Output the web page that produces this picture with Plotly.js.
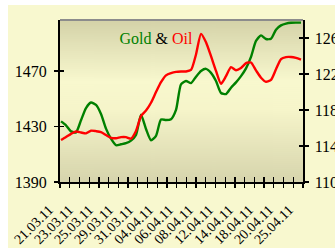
<!DOCTYPE html>
<html>
<head>
<meta charset="utf-8">
<script src="https://cdn.plot.ly/plotly-3.0.1.min.js"></script>
<style>
  html, body { margin: 0; padding: 0; background: #ffffff; }
  #chart { width: 335px; height: 248px; }
</style>
</head>
<body>
<div id="chart"></div>
<script>
// ---- data (half-day samples over the trading days 21.03.11 – 25.04.11) ----
const dateLabels = ['21.03.11', '23.03.11', '25.03.11', '29.03.11', '31.03.11', '04.04.11',
  '06.04.11', '08.04.11', '12.04.11', '14.04.11', '18.04.11', '20.04.11', '25.04.11'];

const goldPrice = [1433.7, 1430.9, 1426.5, 1425.8, 1434.5, 1443.3, 1447.3, 1445.6, 1439.1, 1428.5,
  1421.2, 1416.5, 1417.2, 1418.0, 1419.8, 1423.9, 1438.5, 1428.2, 1420.1, 1423.3,
  1435.0, 1434.7, 1435.3, 1442.0, 1460.4, 1462.8, 1461.3, 1465.9, 1470.0, 1471.6,
  1468.7, 1462.8, 1454.2, 1453.4, 1458.0, 1461.8, 1466.3, 1471.9, 1480.2, 1491.7,
  1495.7, 1493.1, 1493.3, 1499.8, 1502.9, 1504.2, 1504.8, 1504.9, 1504.9];

const oilPrice = [114.66, 114.99, 115.35, 115.61, 115.50, 115.41, 115.70, 115.65, 115.55, 115.22,
  114.91, 114.86, 114.98, 114.98, 114.82, 115.67, 117.33, 117.94, 118.81, 119.99,
  121.09, 121.85, 122.10, 122.23, 122.27, 122.28, 122.45, 124.17, 126.46, 125.52,
  123.98, 122.34, 120.91, 121.76, 122.76, 122.42, 122.67, 123.20, 123.28, 122.40,
  121.59, 121.14, 121.35, 122.53, 123.66, 123.88, 123.89, 123.79, 123.61];

const goldTicks = [1390, 1430, 1470];
const oilTicks = [110, 114, 118, 122, 126];

// ---- layout helpers ----
const W = 335, H = 248;
const M = { l: 60, r: 32, t: 20, b: 66 };
const PW = W - M.l - M.r, PH = H - M.t - M.b;
const px = x => (x - M.l) / PW;
const py = y => (H - M.b - y) / PH;

const sampleIdx = goldPrice.map((_, i) => i);
const labelPos = dateLabels.map((_, i) => i * 4);

// gradient background for plot area
const cv = document.createElement('canvas');
cv.width = 4; cv.height = 162;
const cx = cv.getContext('2d');
const g = cx.createLinearGradient(0, 0, 0, 162);
g.addColorStop(0, 'rgb(212,210,168)');
g.addColorStop(0.38, 'rgb(248,248,206)');
g.addColorStop(0.55, 'rgb(246,245,202)');
g.addColorStop(1, 'rgb(214,212,172)');
cx.fillStyle = g;
cx.fillRect(0, 0, 4, 162);
const gradURL = cv.toDataURL('image/png');

const serif = 'Liberation Serif, Times New Roman, serif';
const GREEN = '#008000', RED = '#ff0000';

const traces = [
  { x: sampleIdx, y: oilPrice, type: 'scatter', mode: 'lines', name: 'Oil',
    line: { color: RED, width: 2.4, shape: 'spline', smoothing: 0.6 },
    xaxis: 'x', yaxis: 'y2', hoverinfo: 'skip' },
  { x: sampleIdx, y: goldPrice, type: 'scatter', mode: 'lines', name: 'Gold',
    line: { color: GREEN, width: 2.4, shape: 'spline', smoothing: 0.6 },
    xaxis: 'x', yaxis: 'y', hoverinfo: 'skip' },
  // carriers for the tick-only overlay axes
  { x: [0], y: [null], xaxis: 'x2', yaxis: 'y', mode: 'lines', hoverinfo: 'skip' },
  { x: [0], y: [null], xaxis: 'x3', yaxis: 'y', mode: 'lines', hoverinfo: 'skip' },
  { x: [0], y: [null], xaxis: 'x', yaxis: 'y3', mode: 'lines', hoverinfo: 'skip' },
  { x: [0], y: [null], xaxis: 'x', yaxis: 'y4', mode: 'lines', hoverinfo: 'skip' }
];

const xr = [-0.2, 48.4];
const gr = [1390, 1506.8];
const orr = [110, 128];
const tickAx = (extra) => Object.assign({
  showgrid: false, zeroline: false, showline: false, showticklabels: false,
  tickcolor: '#000', tickwidth: 1.3, fixedrange: true
}, extra);

const layout = {
  width: W, height: H,
  margin: M,
  paper_bgcolor: '#f8f8cf',
  plot_bgcolor: 'rgba(0,0,0,0)',
  showlegend: false,
  font: { family: serif, size: 16, color: '#000' },
  title: {
    text: '<span style="color:' + GREEN + '">Gold</span> &amp; <span style="color:' + RED + '">Oil</span>',
    font: { family: serif, size: 16, color: '#000' },
    xref: 'paper', yref: 'paper', x: px(156), y: py(38.5),
    xanchor: 'center', yanchor: 'middle'
  },
  xaxis: {
    range: xr, showgrid: false, zeroline: false,
    showline: true, linecolor: '#000', linewidth: 2,
    tickmode: 'array', tickvals: labelPos, ticktext: dateLabels,
    ticks: '', tickangle: -45,
    ticklabelstandoff: 12, ticklabelshift: -12,
    tickfont: { family: serif, size: 14, color: '#000' }
  },
  xaxis2: tickAx({ overlaying: 'x', anchor: 'y', side: 'bottom', range: [0, 25],
    tickmode: 'linear', tick0: 0, dtick: 1, ticks: 'outside', ticklen: 5 }),
  xaxis3: tickAx({ overlaying: 'x', anchor: 'y', side: 'bottom', range: [0, 25],
    tickmode: 'linear', tick0: 0, dtick: 1, ticks: 'inside', ticklen: 5 }),
  yaxis: {
    range: gr, showgrid: false, zeroline: false,
    showline: true, linecolor: '#000', linewidth: 2,
    tickmode: 'array', tickvals: goldTicks,
    ticks: 'outside', ticklen: 4, tickwidth: 1.3, tickcolor: '#000',
    ticklabelstandoff: 4,
    tickfont: { family: serif, size: 16, color: '#000' }
  },
  yaxis2: {
    overlaying: 'y', side: 'right', anchor: 'x',
    range: orr, showgrid: false, zeroline: false,
    showline: true, linecolor: '#000', linewidth: 1.5,
    tickmode: 'array', tickvals: oilTicks,
    ticks: 'outside', ticklen: 4, tickwidth: 1.3, tickcolor: '#000',
    ticklabelstandoff: 3,
    tickfont: { family: serif, size: 16, color: '#000' }
  },
  yaxis3: tickAx({ overlaying: 'y', side: 'left', anchor: 'x', range: gr,
    tickmode: 'array', tickvals: goldTicks, ticks: 'inside', ticklen: 4 }),
  yaxis4: tickAx({ overlaying: 'y', side: 'right', anchor: 'x', range: orr,
    tickmode: 'array', tickvals: oilTicks, ticks: 'inside', ticklen: 4 }),
  images: [{
    source: gradURL, xref: 'paper', yref: 'paper',
    x: 0, y: 1, sizex: 1, sizey: 1, sizing: 'stretch',
    xanchor: 'left', yanchor: 'top', layer: 'below'
  }],
  shapes: [
    // white page edges around the yellow panel
    { type: 'rect', xref: 'paper', yref: 'paper', x0: px(0), x1: px(8), y0: py(H), y1: py(0),
      fillcolor: '#ffffff', line: { width: 0 }, layer: 'below' },
    { type: 'rect', xref: 'paper', yref: 'paper', x0: px(0), x1: px(W), y0: py(5), y1: py(0),
      fillcolor: '#ffffff', line: { width: 0 }, layer: 'below' },
    // grey top frame
    { type: 'line', xref: 'paper', yref: 'paper', x0: 0, x1: 1, y0: 1, y1: 1,
      line: { color: '#8c8c8c', width: 2 }, layer: 'above' }
  ]
};

Plotly.newPlot('chart', traces, layout, { staticPlot: true, displayModeBar: false });
</script>
</body>
</html>
